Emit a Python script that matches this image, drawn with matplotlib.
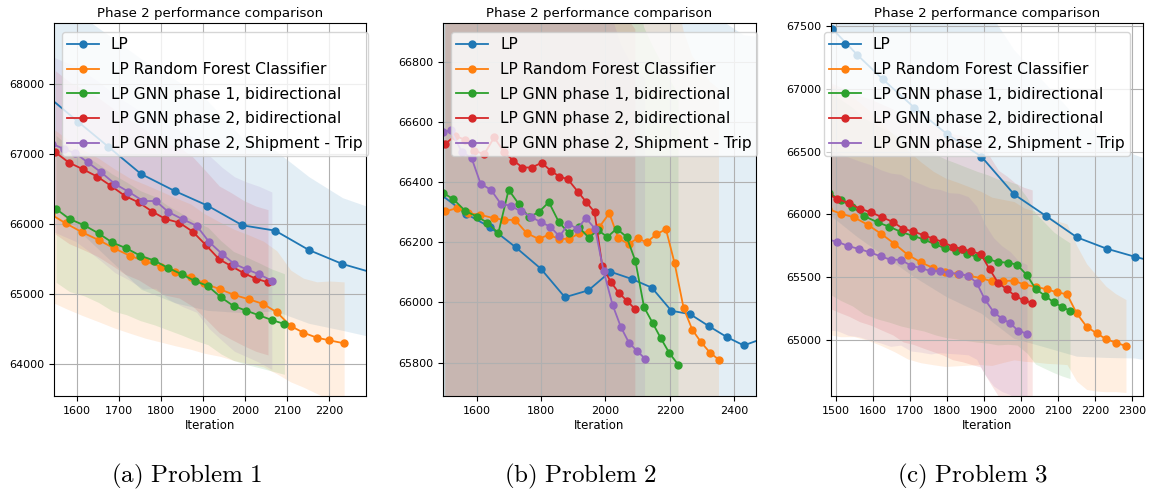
import matplotlib
matplotlib.use('Agg')
import matplotlib.pyplot as plt
from matplotlib.ticker import MultipleLocator

plt.rcParams['mathtext.fontset'] = 'cm'

labels = ['LP', 'LP Random Forest Classifier', 'LP GNN phase 1, bidirectional',
          'LP GNN phase 2, bidirectional', 'LP GNN phase 2, Shipment - Trip']
colors = ['tab:blue', 'tab:orange', 'tab:green', 'tab:red', 'tab:purple']

# ---- problem 1 ----
p1_lp_x = [1524, 1602, 1674, 1752, 1832, 1910, 1993, 2071, 2151, 2231, 2310]
p1_lp_y = [67860, 67465, 67107, 66716, 66473, 66263, 65981, 65905, 65628, 65427, 65290]
p1_lp_std = [1500, 1550, 1600, 1650, 1600, 1500, 1250, 1150, 1050, 950, 920]

p1_rf_x = [1537, 1573, 1612, 1651, 1688, 1725, 1762, 1799, 1833, 1870, 1902, 1940, 1974, 2009, 2043,
           2075, 2108, 2138, 2170, 2200, 2235]
p1_rf_y = [66140, 66010, 65881, 65771, 65652, 65547, 65465, 65389, 65317, 65246, 65150, 65065, 64983,
           64921, 64854, 64735, 64539, 64444, 64372, 64334, 64291]
p1_rf_std = [1250, 1220, 1190, 1170, 1140, 1110, 1100, 1080, 1060, 1040, 1000, 960, 940, 920, 900,
             880, 800, 780, 800, 850, 880]

p1_g1_x = [1550, 1582, 1617, 1651, 1683, 1717, 1750, 1784, 1815, 1849, 1880, 1911, 1942, 1972, 2002,
           2033, 2063, 2093]
p1_g1_y = [66215, 66072, 65981, 65866, 65737, 65652, 65547, 65475, 65375, 65279, 65184, 65112, 64950,
           64826, 64759, 64692, 64625, 64568]
p1_g1_std = [1050, 1040, 1010, 990, 980, 950, 930, 920, 890, 870, 850, 840, 810, 780, 770, 750, 730, 720]

p1_g2_x = [1548, 1581, 1614, 1648, 1681, 1714, 1746, 1779, 1810, 1843, 1875, 1906, 1938, 1965, 1997,
           2025, 2054]
p1_g2_y = [67026, 66878, 66783, 66678, 66544, 66401, 66310, 66177, 66072, 66019, 65890, 65699, 65494,
           65403, 65294, 65217, 65165]
p1_g2_std = [1170, 1160, 1150, 1140, 1130, 1120, 1110, 1100, 1090, 1080, 1070, 1060, 1050, 1050, 1040,
             1040, 1040]

p1_st_x = [1540, 1568, 1596, 1625, 1656, 1690, 1722, 1757, 1787, 1817, 1851, 1884, 1914, 1945, 1974,
           2003, 2033, 2063]
p1_st_y = [67150, 67075, 67012, 66883, 66745, 66573, 66463, 66329, 66329, 66172, 66067, 65976, 65742,
           65570, 65427, 65351, 65279, 65188]
p1_st_std = [1250, 1250, 1260, 1260, 1270, 1270, 1260, 1260, 1250, 1250, 1250, 1240, 1240, 1240, 1250,
             1250, 1260, 1270]

# ---- problem 2 ----
p2_lp_x = [1490, 1567, 1641, 1721, 1799, 1874, 1947, 2015, 2081, 2144, 2205, 2263, 2323, 2377, 2430, 2490]
p2_lp_y = [66357, 66294, 66250, 66183, 66112, 66017, 66040, 66102, 66078, 66049, 65972, 65961, 65920,
           65885, 65857, 65880]
p2_lp_std = [1150, 1140, 1130, 1120, 1110, 1100, 1100, 1090, 1080, 1070, 1060, 1060, 1050, 1040, 1030, 1000]

p2_rf_x = [1502, 1538, 1574, 1610, 1652, 1685, 1719, 1755, 1792, 1823, 1857, 1888, 1919, 1949, 1980,
           2012, 2040, 2072, 2100, 2128, 2158, 2188, 2215, 2243, 2270, 2297, 2325, 2353]
p2_rf_y = [66302, 66313, 66296, 66291, 66280, 66274, 66274, 66230, 66211, 66224, 66211, 66211, 66230,
           66235, 66249, 66296, 66213, 66194, 66213, 66199, 66226, 66243, 66130, 65981, 65909, 65868,
           65833, 65809]
p2_rf_std = [1000, 1000, 1000, 990, 990, 990, 980, 980, 980, 970, 970, 970, 960, 960, 960, 950, 950, 940,
             940, 940, 930, 930, 920, 920, 910, 910, 900, 900]

p2_g1_x = [1496, 1527, 1564, 1600, 1633, 1667, 1699, 1731, 1762, 1793, 1824, 1855, 1886, 1917, 1948,
           1977, 2006, 2035, 2066, 2093, 2120, 2147, 2172, 2199, 2227]
p2_g1_y = [66363, 66343, 66304, 66285, 66265, 66230, 66374, 66326, 66283, 66300, 66333, 66267, 66230,
           66250, 66215, 66240, 66217, 66245, 66217, 66138, 65984, 65931, 65881, 65831, 65792]
p2_g1_std = [1000, 1000, 1000, 990, 990, 990, 980, 980, 980, 970, 970, 970, 960, 960, 960, 950, 950, 940,
             940, 930, 930, 920, 920, 910, 900]

p2_g2_x = [1502, 1533, 1564, 1592, 1623, 1654, 1685, 1714, 1742, 1771, 1802, 1830, 1857, 1883, 1914,
           1939, 1966, 1990, 2016, 2042, 2066, 2093]
p2_g2_y = [66527, 66553, 66540, 66504, 66492, 66548, 66499, 66471, 66448, 66448, 66464, 66437, 66418,
           66409, 66368, 66335, 66300, 66121, 66069, 66031, 66006, 65977]
p2_g2_std = [1000, 1000, 1000, 1000, 990, 990, 990, 990, 980, 980, 980, 980, 970, 970, 970, 960, 960, 950,
             950, 940, 940, 930]

p2_st_x = [1496, 1519, 1553, 1584, 1612, 1644, 1675, 1706, 1737, 1768, 1799, 1828, 1857, 1885, 1913,
           1939, 1968, 1994, 2022, 2048, 2073, 2097, 2123]
p2_st_y = [66567, 66571, 66501, 66479, 66394, 66374, 66327, 66321, 66302, 66285, 66266, 66252, 66219,
           66261, 66244, 66280, 66244, 66105, 65992, 65918, 65866, 65840, 65813]
p2_st_std = [1000, 1000, 1000, 1000, 990, 990, 990, 990, 980, 980, 980, 980, 970, 970, 970, 960, 960, 950,
             950, 940, 940, 930, 930]

# ---- problem 3 ----
p3_lp_x = [1490, 1558, 1626, 1712, 1800, 1893, 1981, 2066, 2151, 2231, 2307, 2390]
p3_lp_y = [67480, 67270, 67078, 66850, 66640, 66460, 66160, 65990, 65817, 65727, 65663, 65600]
p3_lp_std = [1500, 1450, 1400, 1350, 1300, 1250, 1150, 1050, 950, 870, 810, 790]

p3_rf_x = [1478, 1513, 1549, 1586, 1622, 1658, 1694, 1729, 1763, 1796, 1829, 1860, 1891, 1921, 1950,
           1981, 2009, 2039, 2069, 2096, 2124, 2150, 2177, 2204, 2229, 2255, 2283]
p3_rf_y = [66045, 66006, 65977, 65918, 65846, 65767, 65679, 65619, 65573, 65539, 65525, 65510, 65494,
           65467, 65470, 65472, 65440, 65424, 65404, 65380, 65364, 65212, 65106, 65053, 65008, 64979, 64952]
p3_rf_std = [1000, 980, 950, 920, 890, 860, 830, 800, 770, 750, 730, 710, 690, 670, 650, 630, 610, 600,
             590, 570, 560, 540, 500, 460, 420, 390, 370]

p3_g1_x = [1482, 1513, 1545, 1576, 1613, 1644, 1675, 1707, 1737, 1767, 1796, 1824, 1853, 1881, 1910,
           1937, 1964, 1989, 2016, 2039, 2064, 2088, 2111, 2132]
p3_g1_y = [66168, 66115, 66061, 65987, 65937, 65902, 65862, 65830, 65802, 65762, 65730, 65709, 65685,
           65663, 65645, 65621, 65616, 65600, 65515, 65408, 65353, 65300, 65263, 65233]
p3_g1_std = [800, 800, 790, 780, 770, 760, 750, 740, 730, 720, 710, 700, 690, 680, 670, 660, 650, 640,
             620, 600, 580, 560, 550, 540]

p3_g2_x = [1478, 1504, 1536, 1565, 1595, 1625, 1654, 1682, 1709, 1737, 1763, 1789, 1815, 1841, 1865,
           1891, 1915, 1939, 1962, 1984, 2007, 2030]
p3_g2_y = [66160, 66125, 66088, 66045, 66017, 65977, 65940, 65884, 65865, 65834, 65807, 65780, 65743,
           65727, 65706, 65685, 65563, 65451, 65404, 65350, 65316, 65295]
p3_g2_std = [900, 900, 900, 900, 900, 900, 900, 900, 900, 900, 900, 900, 900, 900, 900, 900, 900, 900,
             900, 900, 900, 900]

p3_st_x = [1477, 1504, 1533, 1563, 1592, 1621, 1648, 1675, 1703, 1729, 1756, 1781, 1806, 1832, 1857,
           1880, 1902, 1926, 1948, 1970, 1992, 2016]
p3_st_y = [65800, 65783, 65748, 65725, 65698, 65666, 65639, 65639, 65592, 65573, 65549, 65549, 65533,
           65528, 65512, 65456, 65324, 65223, 65170, 65135, 65074, 65050]
p3_st_std = [720, 710, 710, 700, 700, 690, 690, 680, 680, 670, 660, 650, 640, 640, 630, 610, 600, 590,
             580, 570, 560, 550]

captions = ['(a) Problem 1', '(b) Problem 2', '(c) Problem 3']


def draw_panel(ax, series, xlim, ylim, xstep, ystep, legend_dx):
    for (x, y, s), c, lab in zip(series, colors, labels):
        lo = [m - d for m, d in zip(y, s)]
        hi = [m + d for m, d in zip(y, s)]
        ax.fill_between(x, lo, hi, color=c, alpha=0.12, linewidth=0)
        ax.plot(x, y, '-o', color=c, label=lab, markersize=5, linewidth=1.3)
    ax.set_xlim(*xlim)
    ax.set_ylim(*ylim)
    ax.xaxis.set_major_locator(MultipleLocator(xstep))
    ax.yaxis.set_major_locator(MultipleLocator(ystep))
    ax.tick_params(labelsize=8)
    ax.grid(True)
    ax.set_title('Phase 2 performance comparison', fontsize=9.6, pad=4)
    ax.set_xlabel('Iteration', fontsize=8.5, labelpad=2)
    ax.legend(loc='upper left', bbox_to_anchor=(legend_dx, 0.976), borderaxespad=0,
              fontsize=11.2, labelspacing=0.62, borderpad=0.35)


def main():
    fig = plt.figure(figsize=(11.51, 4.94), dpi=100)
    H, W = 494.0, 1151.0
    bottom = 1 - 396 / H
    height = (396 - 23) / H

    ax1 = fig.add_axes([54 / W, bottom, 312 / W, height])
    ax2 = fig.add_axes([443 / W, bottom, 313 / W, height])
    ax3 = fig.add_axes([831 / W, bottom, 312 / W, height])

    draw_panel(ax1, [(p1_lp_x, p1_lp_y, p1_lp_std), (p1_rf_x, p1_rf_y, p1_rf_std),
                     (p1_g1_x, p1_g1_y, p1_g1_std), (p1_g2_x, p1_g2_y, p1_g2_std),
                     (p1_st_x, p1_st_y, p1_st_std)],
               (1545, 2287), (63537, 68878), 100, 1000, 8 / 312)
    draw_panel(ax2, [(p2_lp_x, p2_lp_y, p2_lp_std), (p2_rf_x, p2_rf_y, p2_rf_std),
                     (p2_g1_x, p2_g1_y, p2_g1_std), (p2_g2_x, p2_g2_y, p2_g2_std),
                     (p2_st_x, p2_st_y, p2_st_std)],
               (1495, 2468), (65689, 66928), 200, 200, 8 / 313)
    draw_panel(ax3, [(p3_lp_x, p3_lp_y, p3_lp_std), (p3_rf_x, p3_rf_y, p3_rf_std),
                     (p3_g1_x, p3_g1_y, p3_g1_std), (p3_g2_x, p3_g2_y, p3_g2_std),
                     (p3_st_x, p3_st_y, p3_st_std)],
               (1487, 2329), (64554, 67524), 100, 500, -7 / 312)

    # sub-figure captions, latex style
    for cx, cap in zip([187, 581, 972], captions):
        txt = '$\\mathrm{' + cap.replace(' ', '\\ ') + '}$'
        fig.text(cx / W, 1 - 476 / H, txt, ha='center', va='center', fontsize=18)

    fig.savefig('out.png', dpi=100)


if __name__ == '__main__':
    main()
